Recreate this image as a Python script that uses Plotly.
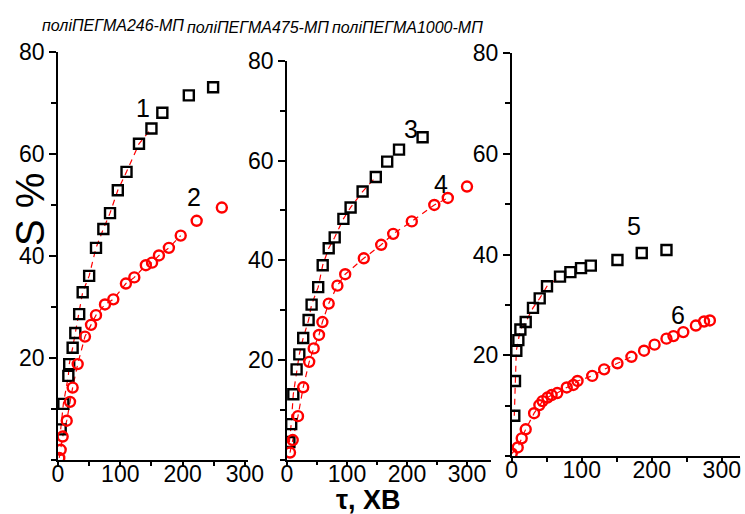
import plotly.graph_objects as go

W, H = 745, 514

# ---- data ----
t1 = [4.3, 8.6, 16.6, 18, 23.5, 27.8, 34, 39.6, 50, 61, 72.8, 83.5, 96, 110, 130, 150, 167.5, 210, 249]
s1 = [6, 11, 16.5, 18.8, 22, 24.9, 28.6, 32.9, 36.1, 41.6, 45.3, 48.4, 52.9, 56.5, 62, 65, 68.1, 71.5, 73.1]
t2 = [2, 4.3, 7.5, 14, 19.3, 23.5, 31.6, 43.3, 53, 61, 75.4, 88.8, 109, 122.5, 141, 151, 162, 178, 197, 222.6, 263]
s2 = [0.4, 2, 4.6, 7.7, 11.4, 14.2, 18.8, 24.2, 26.5, 28.4, 30.5, 31.5, 34.6, 35.8, 38.2, 38.7, 40.1, 41.6, 44, 46.9, 49.5]
t3 = [4, 7, 10.5, 16, 20.5, 27, 36, 41, 52, 59.5, 69.5, 79.5, 94, 106, 126, 148, 167, 186.7, 226]
s3 = [3.5, 7.1, 13.1, 18.1, 21.1, 24.4, 28, 31.1, 34.6, 39, 42.4, 44.6, 48.3, 50.6, 53.8, 56.7, 59.8, 62.2, 64.7]
t4 = [5, 9.5, 18.3, 27, 37, 44.5, 53.3, 59, 69.5, 84, 97, 128, 157, 177, 208, 245.5, 268, 300]
s4 = [1.4, 3.9, 8.7, 14.5, 19.6, 22.3, 25, 27.6, 31.3, 34.9, 37.2, 40.4, 43.1, 45.3, 47.8, 51.1, 52.5, 54.8]
t5 = [3.7, 4.7, 6.6, 9.5, 12.4, 20, 30.4, 40, 50.4, 69, 83.8, 99, 113, 151, 185.7, 221]
s5 = [8, 14.9, 20.9, 23, 25.1, 26.6, 29.4, 31.3, 33.7, 35.6, 36.5, 37.3, 37.8, 38.9, 40.3, 40.9]
t6 = [0, 8.6, 14.3, 20, 32, 39.5, 44, 51, 57, 65, 78.6, 88, 94, 115, 132, 151, 171, 189, 204, 221, 231, 245, 263, 274.7, 283]
s6 = [0.5, 1.7, 3.5, 5.3, 8.5, 10.1, 10.9, 11.6, 12.1, 12.5, 13.6, 14.1, 14.9, 15.9, 17.2, 18.4, 19.7, 20.9, 22.1, 23.3, 23.8, 24.6, 25.9, 26.7, 26.9]

fit_n = [16, 19, 16, 17, 10, 17]  # how many points the dashed fit line follows

panel_titles = ["поліПЕГМА246-МП", "поліПЕГМА475-МП", "поліПЕГМА1000-МП"]
curve_labels = ["1", "2", "3", "4", "5", "6"]
label_pos = [(136, 69), (218, 51.6), (207, 66.4), (257, 55.4), (175, 45.7), (238, 27.9)]

y_ticks = [20, 40, 60, 80]
y_minor = [0, 10, 30, 50, 70]
x_ticks = [0, 100, 200, 300]
x_minor = [50, 150, 250]

FONT = "Liberation Sans, Arial, sans-serif"

series = [(t1, s1), (t2, s2), (t3, s3), (t4, s4), (t5, s5), (t6, s6)]
panel_of = [1, 1, 2, 2, 3, 3]

fig = go.Figure()
for i, (t, s) in enumerate(series):
    p = panel_of[i]
    xa = "x" if p == 1 else f"x{p}"
    ya = "y" if p == 1 else f"y{p}"
    n = fit_n[i]
    fig.add_trace(go.Scatter(x=t[:n], y=s[:n], mode="lines",
                             line=dict(color="#ff0000", dash="6px,5px", width=1.2),
                             xaxis=xa, yaxis=ya, showlegend=False, hoverinfo="skip"))
for i, (t, s) in enumerate(series):
    p = panel_of[i]
    xa = "x" if p == 1 else f"x{p}"
    ya = "y" if p == 1 else f"y{p}"
    if i % 2 == 0:
        mk = dict(symbol="square-open", size=10, color="black", line=dict(width=2.4, color="black"))
    else:
        mk = dict(symbol="circle-open", size=10, color="#ff0000", line=dict(width=2.4, color="#ff0000"))
    fig.add_trace(go.Scatter(x=t, y=s, mode="markers", marker=mk,
                             xaxis=xa, yaxis=ya, showlegend=False))

# panel pixel geometry: (x0px, x1px, xmax, y0px(bottom), y1px(top))
geo = [(58, 248, 305, 460, 52), (287, 491, 340, 459.5, 61), (511.7, 740, 326, 456, 53)]

def ax_common():
    return dict(showline=True, linecolor="black", linewidth=1.5, showgrid=False, zeroline=False,
                ticks="outside", tickcolor="black", tickwidth=1.5, automargin=False,
                tickfont=dict(family=FONT, size=23, color="black"))

layout = dict(width=W, height=H, margin=dict(l=0, r=0, t=0, b=0, pad=0, autoexpand=False),
              paper_bgcolor="white", plot_bgcolor="rgba(0,0,0,0)", showlegend=False)
for k, (x0, x1, xmax, yb, yt) in enumerate(geo, start=1):
    sx = "" if k == 1 else str(k)
    xa = ax_common()
    xa.update(domain=[x0 / W, x1 / W], range=[0, xmax], tickvals=x_ticks, ticklen=5,
              anchor=f"y{sx}", ticklabelstandoff=-12,
              minor=dict(tickvals=x_minor, ticks="outside", ticklen=4, tickwidth=1.5, tickcolor="black"))
    ya = ax_common()
    ya.update(domain=[(H - yb) / H, (H - yt) / H], range=[0, 80], tickvals=y_ticks, ticklen=7,
              anchor=f"x{sx}",
              minor=dict(tickvals=y_minor, ticks="outside", ticklen=5, tickwidth=1.5, tickcolor="black"))
    layout[f"xaxis{sx}"] = xa
    layout[f"yaxis{sx}"] = ya

ann = []
title_pos = [(113, 25), (258, 27), (407, 27)]
for txt, (px, py) in zip(panel_titles, title_pos):
    ann.append(dict(text=f"<i>{txt}</i>", x=px / W, y=1 - py / H, xref="paper", yref="paper",
                    showarrow=False, font=dict(family=FONT, size=16, color="black"),
                    xanchor="center", yanchor="middle"))
for i, lab in enumerate(curve_labels):
    p = panel_of[i]
    sx = "" if p == 1 else str(p)
    ann.append(dict(text=lab, x=label_pos[i][0], y=label_pos[i][1], xref=f"x{sx}", yref=f"y{sx}",
                    showarrow=False, font=dict(family=FONT, size=25, color="black"),
                    xanchor="center", yanchor="middle"))
ann.append(dict(text="S %", x=30 / W, y=1 - 209 / H, xref="paper", yref="paper", textangle=-90,
                showarrow=False, font=dict(family=FONT, size=40, color="black"),
                xanchor="center", yanchor="middle"))
ann.append(dict(text="<b>τ, ХВ</b>", x=368 / W, y=1 - 500 / H, xref="paper", yref="paper",
                showarrow=False, font=dict(family=FONT, size=27, color="black"),
                xanchor="center", yanchor="middle"))
layout["annotations"] = ann

fig.update_layout(**layout)
fig.write_html("out.html")
